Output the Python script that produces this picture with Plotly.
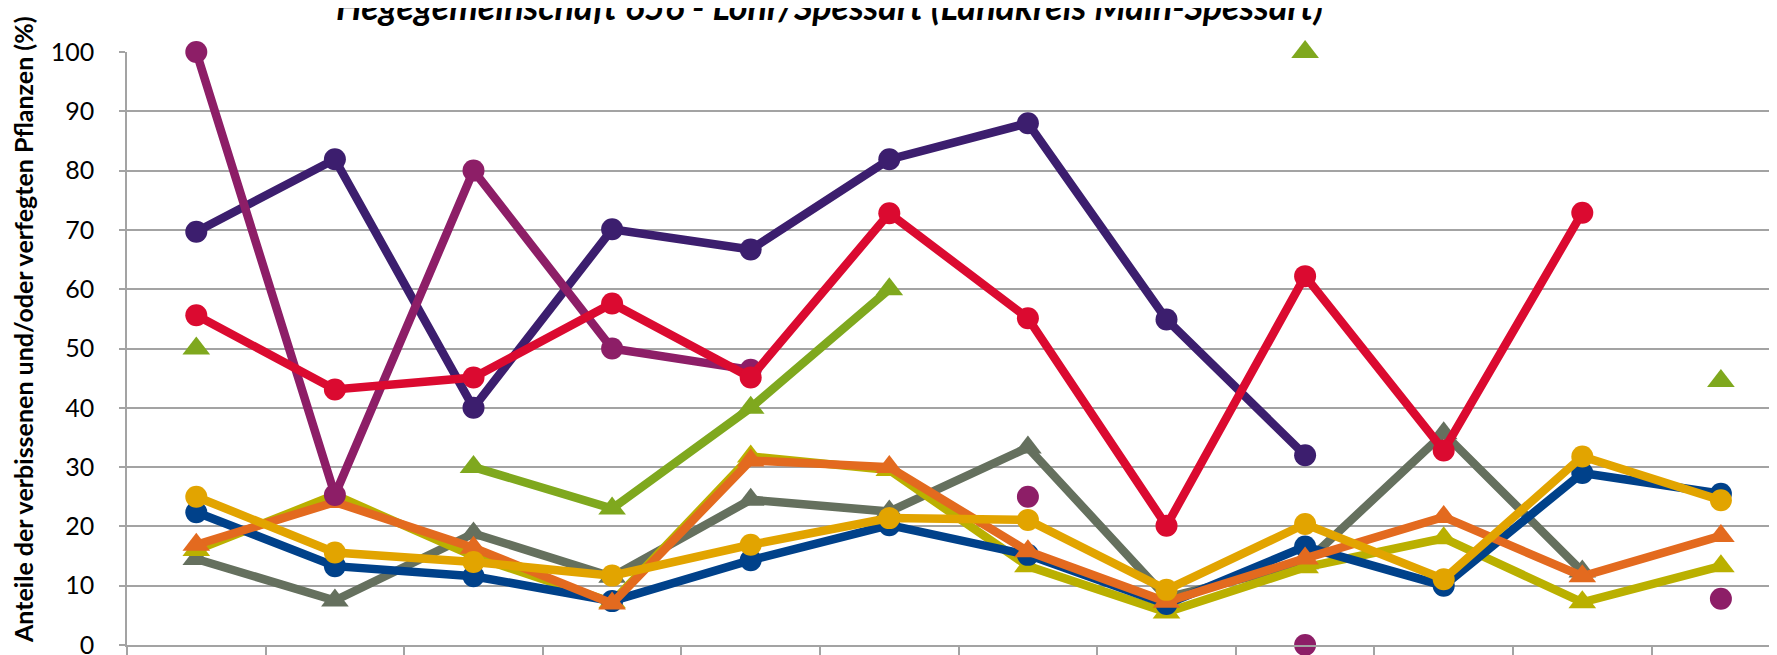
import plotly.graph_objects as go

# Survey years (x-axis labels are cut off in the reference image)
years = ["1991", "1994", "1997", "2000", "2003", "2006", "2009", "2012", "2015", "2018", "2021", "2024"]

title_text = "Hegegemeinschaft 656 - Lohr/Spessart (Landkreis Main-Spessart)"
y_title = "Anteile der verbissenen und/oder verfegten Pflanzen (%)"

# Series values (percent), None = no value
grey_vals = [14.5, 7.5, 18.8, 11.5, 24.5, 22.5, 33.3, 8.0, 13.8, 35.7, 12.4, None]
yellow_vals = [16.0, 25.3, 15.0, 7.2, 31.8, 29.5, 13.3, 5.5, 13.1, 18.0, 7.2, 13.3]
blue_vals = [22.4, 13.3, 11.6, 7.4, 14.3, 20.2, 15.2, 6.9, 16.6, 10.0, 29.0, 25.5]
orange_vals = [16.9, 24.1, 16.4, 7.0, 31.1, 30.0, 15.8, 7.3, 14.6, 21.6, 11.6, 18.4]
gold_vals = [25.0, 15.6, 14.0, 11.7, 16.9, 21.4, 21.1, 9.3, 20.4, 11.1, 31.8, 24.4]
green_vals = [50.0, None, 30.0, 23.0, 40.0, 60.0, None, None, 100.0, None, None, 44.5]
purple_vals = [69.7, 81.9, 40.0, 70.1, 66.7, 81.9, 88.0, 54.9, 32.0, None, None, None]
magenta_vals = [100.0, 25.3, 80.0, 50.0, 46.4, None, 25.0, None, 0.0, None, None, 7.8]
red_vals = [55.6, 43.1, 45.1, 57.6, 45.1, 72.8, 55.1, 20.1, 62.2, 32.8, 72.9, None]

series = [
    ("Serie 1", grey_vals, "#65705E", "triangle-up"),
    ("Serie 2", yellow_vals, "#BAB000", "triangle-up"),
    ("Serie 3", blue_vals, "#00418A", "circle"),
    ("Serie 4", orange_vals, "#E36A1F", "triangle-up"),
    ("Serie 5", gold_vals, "#E2A400", "circle"),
    ("Serie 6", green_vals, "#7FA81E", "triangle-up"),
    ("Serie 7", purple_vals, "#3C1E6E", "circle"),
    ("Serie 8", magenta_vals, "#8D1E67", "circle"),
    ("Serie 9", red_vals, "#DB0A30", "circle"),
]

# The page body adds an 8px offset; the figure is sized so that the plot
# area lands where it is in the 1777x655 reference.
OFF = 8
W, H = 1777 - OFF, 655 - OFF
L, T, B, R = 127 - OFF, 52 - OFF, 10, 0
plot_w = W - L - R
plot_h = H - T - B
plot_bottom = H - B  # figure y of the 0 line

fig = go.Figure()
for name, vals, color, symbol in series:
    fig.add_trace(go.Scatter(
        x=years, y=vals, name=name, mode="lines+markers",
        line=dict(color=color, width=8.5),
        marker=dict(symbol=symbol, size=22 if symbol == "circle" else 24, color=color,
                    line=dict(width=0)),
        connectgaps=False, cliponaxis=False, showlegend=False,
    ))

grid_col = "#A3A3A3"
fig.update_layout(
    width=W, height=H,
    margin=dict(l=L, r=R, t=T, b=B, pad=0, autoexpand=False),
    paper_bgcolor="white", plot_bgcolor="white",
    font=dict(family="Lato", size=25, color="#000000"),
    xaxis=dict(
        type="category", range=[-0.5, -0.5 + (1777 - 127) / 138.6],
        showticklabels=False, tickson="boundaries", ticks="outside",
        ticklen=12, tickwidth=1.5, tickcolor=grid_col,
        showgrid=False, showline=True, linecolor=grid_col, linewidth=1.5,
        zeroline=False, fixedrange=True, automargin=False,
    ),
    yaxis=dict(
        range=[0, 100], dtick=10, tick0=0,
        ticks="outside", ticklen=6, tickwidth=1.5, tickcolor=grid_col,
        ticklabelstandoff=20, ticklabeloverflow="allow",
        showgrid=True, gridcolor=grid_col, gridwidth=1.5,
        showline=True, linecolor=grid_col, linewidth=1.5,
        zeroline=False, automargin=False,
        tickfont=dict(family="Lato", size=25, color="#000000"),
    ),
)

# Chart title (partly cut off at the top in the reference)
fig.add_annotation(
    text="<b><i>" + title_text + "</i></b>",
    xref="paper", yref="paper",
    x=(829 - 127) / plot_w, y=(plot_bottom + 1.5) / plot_h,
    xanchor="center", yanchor="middle", showarrow=False,
    font=dict(family="Lato", size=36, color="#000000"),
)

# Y-axis title
fig.add_annotation(
    text="<b>" + y_title + "</b>",
    xref="paper", yref="paper",
    x=(15 - L) / plot_w, y=(plot_bottom - 322) / plot_h,
    xanchor="center", yanchor="middle", textangle=-90, showarrow=False,
    font=dict(family="Lato", size=25, color="#000000"),
)

fig.write_html("out.html")
